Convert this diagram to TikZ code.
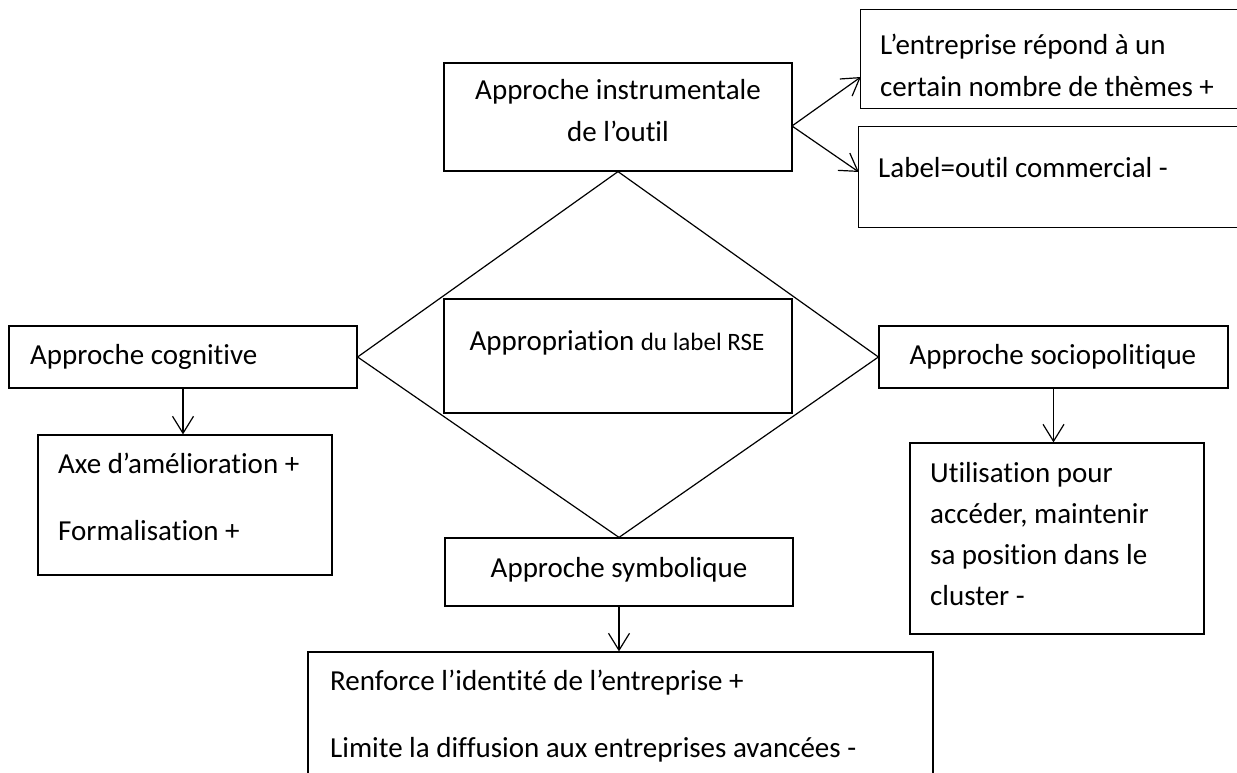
\documentclass[tikz,border=0pt]{standalone}
\usepackage{fontspec}
\setmainfont{Carlito}[Ligatures=NoCommon]
\usetikzlibrary{arrows.meta}
\begin{document}
\begin{tikzpicture}[x=1pt,y=-1pt,
  box/.style={draw,line width=1.2pt,inner sep=0pt},
  openbox/.style={draw=none,inner sep=0pt},
  edge/.style={line width=1.2pt,line join=miter},
  txt/.style={inner sep=0pt,font=\fontsize{29}{35}\selectfont},
  arr/.style={line width=1.2pt,-{Straight Barb[length=17pt,width=21pt,line width=1.2pt]}},
  dia/.style={line width=1.2pt,line join=miter}
]
\useasboundingbox (0,0) rectangle (1237,773);
\clip (0,0) rectangle (1237,773);
\fill[white] (0,0) rectangle (1237,773);

% boxes
\node[openbox,minimum width=429pt,minimum height=98pt] (themes) at (1075.5,59) {};
\node[openbox,minimum width=431pt,minimum height=100pt] (label) at (1074.5,177) {};
\draw[edge] (themes.north east) -- (themes.north west) -- (themes.south west) -- (themes.south east);
\draw[edge] (label.north east) -- (label.north west) -- (label.south west) -- (label.south east);
\node[box,minimum width=348pt,minimum height=108pt] (instr) at (618,117) {};
\node[box,minimum width=348pt,minimum height=62pt] (cog) at (183,357) {};
\node[box,minimum width=294pt,minimum height=140pt] (axe) at (185,505) {};
\node[box,minimum width=349pt,minimum height=62pt] (socio) at (1053.5,357) {};
\node[box,minimum width=294pt,minimum height=191pt] (util) at (1057,538.5) {};
\node[box,minimum width=348pt,minimum height=68pt] (symb) at (619,572) {};
\node[box,minimum width=625pt,minimum height=148pt] (bottom) at (620.5,726) {};

% diamond
\draw[dia] (instr.south) -- (cog.east) -- (symb.north) -- (socio.west) -- cycle;
\node[box,fill=white,minimum width=348pt,minimum height=114pt] (appr) at (618,356) {};

% texts
\node[txt,anchor=base] (t1a) at (618,100) {Approche instrumentale};
\node[txt,anchor=base] (t1b) at (618,142) {de l’outil};
\node[txt,anchor=base west] (t2a) at (880,55) {L’entreprise répond à un};
\node[txt,anchor=base west] (t2b) at (880,97) {certain nombre de thèmes +};
\node[txt,anchor=base west] (t3) at (878,177) {Label=outil commercial -};
\node[txt,anchor=base] (t4) at (617,350) {Appropriation {\fontsize{25}{30}\selectfont du label RSE}};
\node[txt,anchor=base west] (t5) at (30,364) {Approche cognitive};
\node[txt,anchor=base west] (t6a) at (58,473) {Axe d’amélioration +};
\node[txt,anchor=base west] (t6b) at (58,540) {Formalisation +};
\node[txt,anchor=base] (t7) at (1053,364) {Approche sociopolitique};
\node[txt,anchor=base west] (t8a) at (930,482) {Utilisation pour};
\node[txt,anchor=base west] (t8b) at (930,523) {accéder, maintenir};
\node[txt,anchor=base west] (t8c) at (930,564) {sa position dans le};
\node[txt,anchor=base west] (t8d) at (930,605) {cluster -};
\node[txt,anchor=base] (t9) at (619,577) {Approche symbolique};
\node[txt,anchor=base west] (t10a) at (330,690) {Renforce l’identité de l’entreprise +};
\node[txt,anchor=base west] (t10b) at (330,757) {Limite la diffusion aux entreprises avancées -};

% connectors
\coordinate (a0) at (792,126);
\draw[arr] (a0) -- (themes.west |- 0,77);
\draw[arr] (a0) -- (label.west |- 0,172);
\draw[arr] (cog.south) -- (cog.south |- axe.north);
\draw[arr] (socio.south) -- (socio.south |- util.north);
\draw[arr] (symb.south) -- (symb.south |- bottom.north);
\end{tikzpicture}
\end{document}
